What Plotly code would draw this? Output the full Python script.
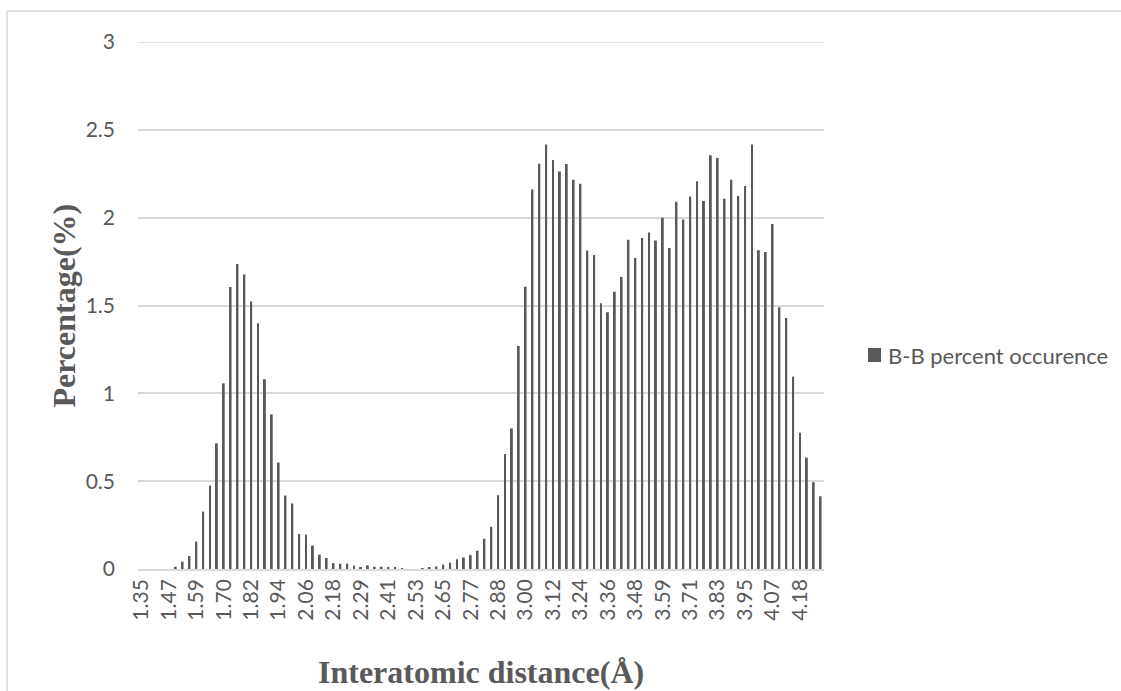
import plotly.graph_objects as go

# B-B interatomic distance histogram: 100 bins starting at 1.35 Å
bin_start = 1.35
bin_width = 0.0295165

percent = [
    0, 0, 0, 0, 0, 0.013, 0.042, 0.074, 0.156, 0.327,
    0.475, 0.715, 1.057, 1.606, 1.736, 1.677, 1.523, 1.399, 1.08, 0.88,
    0.606, 0.418, 0.373, 0.199, 0.195, 0.133, 0.082, 0.063, 0.034, 0.030,
    0.030, 0.019, 0.011, 0.021, 0.013, 0.013, 0.008, 0.008, 0.002, 0,
    0, 0.005, 0.009, 0.015, 0.025, 0.036, 0.055, 0.066, 0.080, 0.104,
    0.172, 0.24, 0.42, 0.655, 0.80, 1.27, 1.607, 2.16, 2.307, 2.416,
    2.328, 2.263, 2.305, 2.216, 2.193, 1.813, 1.788, 1.513, 1.462, 1.578,
    1.662, 1.874, 1.771, 1.884, 1.916, 1.87, 2.0, 1.828, 2.09, 1.99,
    2.12, 2.208, 2.095, 2.355, 2.34, 2.107, 2.216, 2.124, 2.18, 2.416,
    1.815, 1.805, 1.964, 1.49, 1.429, 1.095, 0.775, 0.634, 0.494, 0.414,
]

distance = [f"{bin_start + i * bin_width:.2f}" for i in range(len(percent))]

tick_labels = [
    "1.35", "1.47", "1.59", "1.70", "1.82", "1.94", "2.06", "2.18", "2.29",
    "2.41", "2.53", "2.65", "2.77", "2.88", "3.00", "3.12", "3.24", "3.36",
    "3.48", "3.59", "3.71", "3.83", "3.95", "4.07", "4.18",
]
tick_positions = distance[::4][:len(tick_labels)]

y_ticks = [0, 0.5, 1, 1.5, 2, 2.5, 3]
series_name = "B-B percent occurence"

W, H = 1121, 691
L, R, T, B = 138, 824, 42, 569  # plot area in pixels


def px_x(p):
    return (p - L) / (R - L)


def px_y(p):
    return (B - p) / (B - T)


grey_text = "#595959"
bar_color = "#595959"
grid = "#d9d9d9"

fig = go.Figure()
fig.add_trace(go.Bar(
    x=distance,
    y=percent,
    name=series_name,
    marker=dict(color=bar_color, line=dict(width=0)),
    showlegend=False,
))

shapes = [
    # chart-area frame
    dict(type="line", xref="paper", yref="paper",
         x0=px_x(7), x1=px_x(W + 10), y0=px_y(11), y1=px_y(11),
         line=dict(color=grid, width=1.5)),
    dict(type="line", xref="paper", yref="paper",
         x0=px_x(7), x1=px_x(7), y0=px_y(11), y1=px_y(H + 10),
         line=dict(color=grid, width=1.5)),
    # top gridline at the axis maximum
    dict(type="line", xref="paper", yref="y",
         x0=0, x1=1, y0=y_ticks[-1], y1=y_ticks[-1],
         line=dict(color=grid, width=1.5), layer="below"),
    # legend key
    dict(type="rect", xref="paper", yref="paper",
         x0=px_x(868), x1=px_x(881), y0=px_y(362), y1=px_y(348),
         fillcolor=bar_color, line=dict(width=0)),
]

fig.update_layout(
    width=W,
    height=H,
    margin=dict(l=L, r=W - R, t=T, b=H - B, pad=0),
    paper_bgcolor="white",
    plot_bgcolor="white",
    bargap=0.72,
    font=dict(family="Lato", size=21, color=grey_text),
    showlegend=False,
    xaxis=dict(
        type="category",
        tickmode="array",
        tickvals=tick_positions,
        ticktext=tick_labels,
        tickangle=-90,
        showgrid=False,
        showline=True,
        linecolor=grid,
        linewidth=1.5,
        ticks="",
        tickfont=dict(family="Lato", size=21, color=grey_text),
        automargin=False,
    ),
    yaxis=dict(
        range=[0, 3],
        tickvals=y_ticks,
        ticktext=[f"{v:g}" for v in y_ticks],
        showgrid=True,
        gridcolor=grid,
        gridwidth=1.5,
        zeroline=False,
        showline=False,
        ticks="",
        ticklabelstandoff=22,
        tickfont=dict(family="Lato", size=21, color=grey_text),
        automargin=False,
    ),
    annotations=[
        dict(
            text="<b>Percentage(%)</b>",
            xref="paper", yref="paper",
            x=px_x(63), y=0.5,
            xanchor="center", yanchor="middle",
            textangle=-90, showarrow=False,
            font=dict(family="Liberation Serif", size=32, color=grey_text),
        ),
        dict(
            text="<b>Interatomic distance(Å)</b>",
            xref="paper", yref="paper",
            x=0.5, y=px_y(672),
            xanchor="center", yanchor="middle",
            showarrow=False,
            font=dict(family="Liberation Serif", size=32, color=grey_text),
        ),
        dict(
            text=series_name,
            xref="paper", yref="paper",
            x=px_x(886), y=px_y(355),
            xanchor="left", yanchor="middle",
            showarrow=False,
            font=dict(family="Lato", size=22, color=grey_text),
        ),
    ],
    shapes=shapes,
)

fig.write_html("out.html")
